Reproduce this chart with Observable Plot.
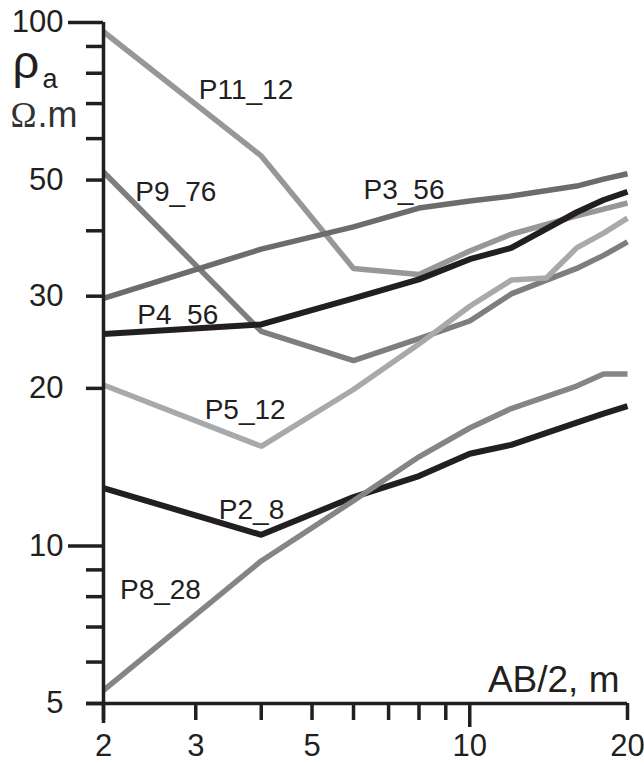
<!DOCTYPE html>
<html><head><meta charset="utf-8">
<script src="https://cdn.jsdelivr.net/npm/d3@7"></script>
<script src="https://cdn.jsdelivr.net/npm/@observablehq/plot@0.6"></script>
<style>body{margin:0;background:#fff}#chart svg{display:block}</style>
</head><body><div id="chart"></div>
<script>
// ---- data ----
const seriesNames = ["P11_12","P9_76","P3_56","P4_56","P5_12","P2_8","P8_28"];
const abHalf   = [2, 4, 6, 8, 10, 12, 16, 18, 20];
const abHalfP5 = [2, 4, 6, 8, 10, 12, 14, 16, 18, 20];
const rhoP11_12 = [96, 55.6, 33.9, 33.0, 36.6, 39.4, 42.7, 44.0, 45.2];
const rhoP9_76  = [51.8, 25.7, 22.6, 24.9, 26.9, 30.3, 33.9, 35.9, 38.1];
const rhoP3_56  = [29.7, 36.9, 40.7, 44.2, 45.6, 46.6, 48.7, 50.2, 51.4];
const rhoP4_56  = [25.4, 26.5, 29.7, 32.3, 35.3, 37.1, 43.4, 45.8, 47.5];
const rhoP5_12  = [20.3, 15.5, 19.9, 24.3, 28.7, 32.2, 32.5, 37.1, 39.6, 42.3];
const rhoP2_8   = [12.9, 10.5, 12.4, 13.6, 15.0, 15.6, 17.2, 17.9, 18.5];
const rhoP8_28  = [5.3, 9.36, 12.2, 14.8, 16.8, 18.3, 20.2, 21.3, 21.3];
const seriesX = [abHalf, abHalf, abHalf, abHalf, abHalfP5, abHalf, abHalf];
const seriesY = [rhoP11_12, rhoP9_76, rhoP3_56, rhoP4_56, rhoP5_12, rhoP2_8, rhoP8_28];
const seriesColors = ["#979797", "#7e7e7e", "#6c6c6c", "#231f20", "#a8a9ab", "#231f20", "#858585"];
const seriesWidths = [5.5, 5.5, 5.5, 6, 5.5, 6, 5.5];
// label anchor points (data coordinates)
const labelX = [3.04, 2.30, 6.27, 2.32, 3.12, 3.32, 2.15];
const labelY = [71.5, 45.6, 46.0, 26.5, 17.5, 11.27, 7.92];
// ticks
const xTickLabels = [2, 3, 5, 10, 20];
const xTicksShort = [2, 3, 4, 5, 6, 7, 8, 9, 20];
const xTicksLong = [10];
const yTickLabels = [5, 10, 20, 30, 50, 100];
const yTicksShort = [5, 6, 7, 8, 9, 20, 30, 40, 50, 60, 70, 80, 90];
const yTicksLong = [10, 100];
const xMin = 2, yMin = 5;

// ---- build ----
const ink = "#231f20";
const font = "'Liberation Sans', Arial, Helvetica, sans-serif";
const lines = seriesNames.map((name, i) => {
  const rows = seriesX[i].map((x, j) => ({series: name, x, y: seriesY[i][j]}));
  return Plot.line(rows, {x: "x", y: "y", stroke: seriesColors[i], strokeWidth: seriesWidths[i],
    strokeLinejoin: "miter", strokeLinecap: "butt"});
});
const labels = seriesNames.map((name, i) => ({name, x: labelX[i], y: labelY[i]}));
const blank = () => "";

const chart = Plot.plot({
  width: 644, height: 764,
  marginLeft: 103, marginRight: 17, marginTop: 22, marginBottom: 61,
  style: {fontFamily: font, background: "#fff", color: ink},
  x: {type: "log", domain: [2, 20]},
  y: {type: "log", domain: [5, 100]},
  marks: [
    ...lines,
    Plot.text(labels, {x: "x", y: "y", text: "name", textAnchor: "start", lineAnchor: "bottom",
      fontSize: 28, fill: ink}),
    // axis lines
    Plot.ruleX([xMin], {insetBottom: -20, stroke: ink, strokeWidth: 3.5}),
    Plot.ruleY([yMin], {insetLeft: -17, stroke: ink, strokeWidth: 3.5}),
    // y ticks
    Plot.axisY(yTicksShort, {tickSize: 17, tickFormat: blank, label: null, stroke: ink, strokeWidth: 3.5}),
    Plot.axisY(yTicksLong, {tickSize: 35, tickFormat: blank, label: null, stroke: ink, strokeWidth: 3.5}),
    Plot.axisY(yTickLabels, {tickSize: 0, tickPadding: 40, label: null, fontSize: 31, fill: ink, tickFormat: d => String(d)}),
    // x ticks
    Plot.axisX(xTicksShort, {tickSize: 17, tickFormat: blank, label: null, stroke: ink, strokeWidth: 3.5}),
    Plot.axisX(xTicksLong, {tickSize: 24, tickFormat: blank, label: null, stroke: ink, strokeWidth: 3.5}),
    Plot.axisX(xTickLabels, {tickSize: 0, tickPadding: 30, label: null, fontSize: 31, fill: ink, tickFormat: d => String(d)}),
    // axis titles
    Plot.text(["AB/2, m"], {frameAnchor: "bottom-right", dx: -8, dy: -12, textAnchor: "end", lineAnchor: "bottom", fontSize: 37, fill: ink}),
    Plot.text(["ρ"], {frameAnchor: "top-left", dx: -91, dy: 55, textAnchor: "start", lineAnchor: "bottom", fontSize: 47, fill: ink}),
    Plot.text(["a"], {frameAnchor: "top-left", dx: -61, dy: 65, textAnchor: "start", lineAnchor: "bottom", fontSize: 27, fill: ink}),
    Plot.text(["Ω"], {frameAnchor: "top-left", dx: -93, dy: 104, textAnchor: "start", lineAnchor: "bottom", fontSize: 35, fill: "#333", fontFamily: "'Liberation Serif', serif"}),
    Plot.text([".m"], {frameAnchor: "top-left", dx: -66, dy: 104, textAnchor: "start", lineAnchor: "bottom", fontSize: 36, fill: "#333"})
  ]
});
document.getElementById("chart").appendChild(chart);
</script>
</body></html>
